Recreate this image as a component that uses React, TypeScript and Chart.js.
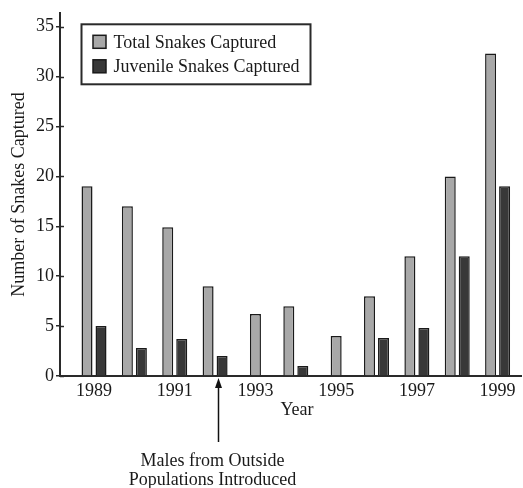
import React, { useEffect, useRef } from 'react';
import { Chart, registerables } from 'chart.js';

Chart.register(...registerables);

// ---- data ----
const years = [1989, 1990, 1991, 1992, 1993, 1994, 1995, 1996, 1997, 1998, 1999];
const totalCaptured = [19, 17, 14.9, 9, 6.2, 7, 4, 8, 12, 20, 32.3];
const juvenileCaptured: (number | null)[] = [5, 2.8, 3.7, 2, null, 1, null, 3.8, 4.8, 12, 19];
const seriesLabels = ['Total Snakes Captured', 'Juvenile Snakes Captured'];
const xTickYears = [1989, 1991, 1993, 1995, 1997, 1999];
const yTickValues = [0, 5, 10, 15, 20, 25, 30, 35];
const xAxisTitle = 'Year';
const yAxisTitle = 'Number of Snakes Captured';
const annotationYear = 1992.06;
const annotationLines = ['Males from Outside', 'Populations Introduced'];

const FONT = "'Liberation Serif', 'Times New Roman', serif";
const TEXT = '#1a1a1a';
const AXIS = '#2a2a2a';
const totalFill = '#a8a8a8';
const juvFill = '#383838';
const barBorder = '#1a1a1a';

const decorPlugin = {
  id: 'decor',
  afterDraw(chart: any) {
    const { ctx, chartArea } = chart;
    const xs = chart.scales.x;
    const ys = chart.scales.y;
    ctx.save();
    // inner half of y tick marks
    ctx.strokeStyle = AXIS;
    ctx.lineWidth = 1.5;
    ys.ticks.forEach((t: any) => {
      const y = Math.round(ys.getPixelForValue(t.value)) + 0.5;
      ctx.beginPath();
      ctx.moveTo(chartArea.left, y);
      ctx.lineTo(chartArea.left + 4, y);
      ctx.stroke();
    });

    // legend box
    const lx = chartArea.left + 21.5;
    const ly = chartArea.top + 11.5;
    ctx.lineWidth = 2;
    ctx.strokeStyle = AXIS;
    ctx.fillStyle = '#ffffff';
    ctx.fillRect(lx, ly, 229, 60);
    ctx.strokeRect(lx, ly, 229, 60);
    const ds = chart.data.datasets;
    ctx.font = `18px ${FONT}`;
    ctx.textBaseline = 'alphabetic';
    ctx.textAlign = 'left';
    ds.forEach((d: any, i: number) => {
      const sy = ly + 11 + i * 24.5;
      ctx.fillStyle = d.backgroundColor;
      ctx.fillRect(lx + 11.5, sy, 13, 13);
      ctx.lineWidth = 1.5;
      ctx.strokeStyle = barBorder;
      ctx.strokeRect(lx + 11.5, sy, 13, 13);
      ctx.fillStyle = TEXT;
      ctx.fillText(d.label, lx + 32, ly + 24 + i * 24);
    });

    // x axis title
    ctx.textAlign = 'center';
    ctx.fillStyle = TEXT;
    ctx.fillText(xAxisTitle, (chartArea.left + chartArea.right) / 2 + 6.5, chartArea.bottom + 39);

    // annotation arrow
    const ax = Math.round(xs.getPixelForValue(annotationYear)) + 0.5;
    const tipY = chartArea.bottom + 2;
    ctx.strokeStyle = '#111';
    ctx.lineWidth = 1.5;
    ctx.beginPath();
    ctx.moveTo(ax, chartArea.bottom + 66);
    ctx.lineTo(ax, tipY + 6);
    ctx.stroke();
    ctx.fillStyle = '#111';
    ctx.beginPath();
    ctx.moveTo(ax, tipY);
    ctx.lineTo(ax - 3.5, tipY + 10);
    ctx.lineTo(ax + 3.5, tipY + 10);
    ctx.closePath();
    ctx.fill();
    ctx.fillStyle = TEXT;
    annotationLines.forEach((line, i) => {
      ctx.fillText(line, ax - 6, chartArea.bottom + 90 + i * 19);
    });
    ctx.restore();
  },
};

export default function App() {
  const ref = useRef<HTMLCanvasElement | null>(null);
  useEffect(() => {
    if (!ref.current) return;
    const chart = new Chart(ref.current, {
      type: 'bar',
      data: {
        datasets: [
          {
            label: seriesLabels[0],
            data: years.map((y, i) => ({ x: y, y: totalCaptured[i] })),
            backgroundColor: totalFill,
            borderColor: barBorder,
            borderWidth: 1.5,
          },
          {
            label: seriesLabels[1],
            data: years.map((y, i) => ({ x: y, y: juvenileCaptured[i] })),
            backgroundColor: juvFill,
            borderColor: barBorder,
            borderWidth: 1.5,
          },
        ],
      },
      options: {
        animation: false,
        responsive: false,
        devicePixelRatio: 1,
        layout: { padding: { top: 10, right: 2, left: 0, bottom: 0 } },
        datasets: {
          bar: {
            skipNull: true,
            categoryPercentage: 0.694,
            barPercentage: 1,
            maxBarThickness: 11,
          },
        } as any,
        plugins: {
          legend: { display: false },
          tooltip: { enabled: false },
        },
        scales: {
          x: {
            type: 'linear',
            offset: false,
            min: 1988.157,
            max: 1999.58,
            grid: { display: false, drawTicks: false, offset: false },
            border: { display: true, color: AXIS, width: 2 },
            ticks: {
              font: { family: FONT, size: 18 },
              color: TEXT,
              padding: 4,
              autoSkip: false,
              maxRotation: 0,
              callback: (v: any) => String(v),
            },
            afterBuildTicks: (s: any) => {
              s.ticks = xTickYears.map((v) => ({ value: v }));
            },
            afterFit: (s: any) => {
              s.height = 112;
            },
          },
          y: {
            min: 0,
            max: 36.39,
            grid: { drawOnChartArea: false, drawTicks: true, tickLength: 4, color: AXIS, lineWidth: 1.5 },
            border: { display: true, color: AXIS, width: 2 },
            ticks: {
              stepSize: 5,
              font: { family: FONT, size: 18 },
              color: TEXT,
              padding: 2,
            },
            title: {
              display: true,
              text: yAxisTitle,
              font: { family: FONT, size: 18 },
              color: TEXT,
              padding: { top: 8, bottom: 0 },
            },
            afterBuildTicks: (s: any) => {
              s.ticks = yTickValues.map((v) => ({ value: v }));
            },
            afterFit: (s: any) => {
              s.width = 60;
            },
          },
        } as any,
      },
      plugins: [decorPlugin],
    });
    return () => chart.destroy();
  }, []);

  return (
    <div style={{ position: 'absolute', left: 0, top: 0, width: 523, height: 488, background: '#fff' }}>
      <canvas ref={ref} width={523} height={488} style={{ width: 523, height: 488 }} />
    </div>
  );
}
